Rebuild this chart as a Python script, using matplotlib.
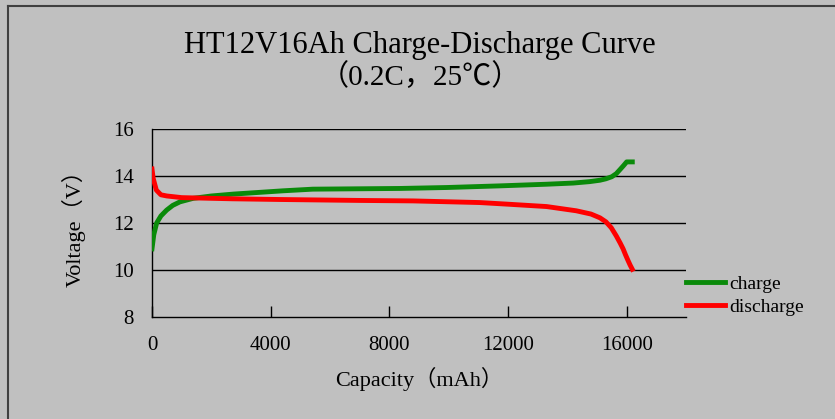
import matplotlib.pyplot as plt

# data
charge_cap = [0, 60, 157, 300, 495, 700, 943, 1390, 2000, 2740, 4420, 5420, 8350,
              9930, 11720, 13300, 14200, 14750, 15100, 15300, 15500, 15650, 15780, 15900, 16000, 16190]
charge_v = [10.9, 11.5, 12.0, 12.3, 12.55, 12.75, 12.9, 13.05, 13.15, 13.23, 13.37, 13.44, 13.47,
            13.51, 13.58, 13.65, 13.7, 13.76, 13.82, 13.88, 13.97, 14.1, 14.28, 14.45, 14.6, 14.6]

discharge_cap = [0, 40, 146, 300, 500, 1000, 2000, 2700, 4310, 7000, 8800, 11050, 12000,
                 13300, 14300, 14800, 15100, 15300, 15480, 15650, 15780, 15880, 15960,
                 16040, 16120, 16190]
discharge_v = [14.3, 13.9, 13.4, 13.2, 13.15, 13.08, 13.05, 13.03, 13.0, 12.96, 12.94, 12.87, 12.8,
               12.7, 12.52, 12.38, 12.22, 12.05, 11.8, 11.45, 11.15, 10.9, 10.65,
               10.42, 10.2, 10.03]

x_ticks = [0, 4000, 8000, 12000, 16000]
y_ticks = [8, 10, 12, 14, 16]

fonts = ['Liberation Serif', 'Noto Sans CJK SC', 'DejaVu Sans']
plt.rcParams['font.family'] = fonts

bg = '#c0c0c0'
fig = plt.figure(figsize=(8.35, 4.19), dpi=100, facecolor=bg)
ax = fig.add_axes([152 / 835, 1 - 317 / 419, (686 - 152) / 835, (317 - 129) / 419])
ax.set_facecolor(bg)

# frame around the chart (only top/left visible in reference)
fig.add_artist(plt.Line2D([8 / 835, 8 / 835], [0, 1 - 6 / 419], transform=fig.transFigure,
                          color='#404040', lw=1.5))
fig.add_artist(plt.Line2D([8 / 835, 1], [1 - 6 / 419, 1 - 6 / 419], transform=fig.transFigure,
                          color='#404040', lw=1.5))

for v in y_ticks[1:]:
    ax.axhline(v, color='black', lw=1, zorder=1)

ax.plot(charge_cap, charge_v, color='#0a8a0a', lw=3.5, label='charge', zorder=3)
ax.plot(discharge_cap, discharge_v, color='#ff0000', lw=3.5, label='discharge', zorder=3)

ax.set_xlim(0, 18000)
ax.set_ylim(8, 16)
ax.set_xticks(x_ticks)
ax.set_yticks(y_ticks)
ax.tick_params(axis='x', direction='in', length=8, width=1, pad=14, labelsize=15)
ax.tick_params(axis='y', length=0, pad=13, labelsize=15)
for s in ['top', 'right']:
    ax.spines[s].set_visible(False)
for s in ['left', 'bottom']:
    ax.spines[s].set_linewidth(1)
    ax.spines[s].set_color('black')

ax.set_xlabel('Capacity（mAh）', fontsize=16, labelpad=8)
ax.set_ylabel('Voltage（V）', fontsize=16, labelpad=20)

fig.text(0.503, 1 - 45 / 419, 'HT12V16Ah Charge-Discharge Curve', ha='center', va='center',
         fontsize=22)
fig.text(0.503, 1 - 77 / 419, '（0.2C，25℃）', ha='center', va='center', fontsize=21)

ax.legend(loc='upper left', bbox_to_anchor=(0.985, 0.265), frameon=False, fontsize=14,
          handlelength=2.0, handletextpad=0.25, labelspacing=0.3, borderaxespad=0)

fig.savefig('out.png', dpi=100, facecolor=bg)
